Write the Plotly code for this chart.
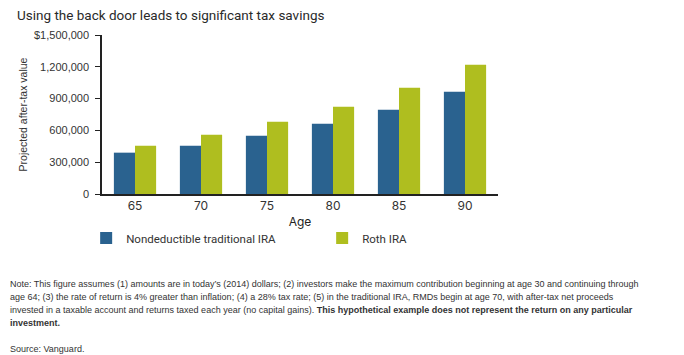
import plotly.graph_objects as go

ages = ["65", "70", "75", "80", "85", "90"]
traditional = [390000, 456000, 550000, 663000, 795000, 965000]
roth = [456000, 559000, 682000, 824000, 1003000, 1220000]
y_ticks = [0, 300000, 600000, 900000, 1200000, 1500000]
y_tick_labels = ["0", "300,000", "600,000", "900,000", "1,200,000", "$1,500,000"]

note_lines = [
    "Note: This figure assumes (1) amounts are in today\u2019s (2014) dollars; (2) investors make the maximum contribution beginning at age 30 and continuing through",
    "age 64; (3) the rate of return is 4% greater than inflation; (4) a 28% tax rate; (5) in the traditional IRA, RMDs begin at age 70, with after-tax net proceeds",
    "invested in a taxable account and returns taxed each year (no capital gains). <b>This hypothetical example does not represent the return on any particular</b>",
    "<b>investment.</b>",
]
source = "Source: Vanguard."

BLUE = "#2A628F"
GREEN = "#AFBE1F"
TXT = "#333333"

PL, PR, PT, PB = 102, 498, 35, 194
PW, PH = PR - PL, PB - PT

fig = go.Figure()
fig.add_bar(x=ages, y=traditional, name="Nondeductible traditional IRA",
            marker=dict(color=BLUE, line=dict(width=0)))
fig.add_bar(x=ages, y=roth, name="Roth IRA",
            marker=dict(color=GREEN, line=dict(width=0)))

fig.update_layout(
    width=684, height=355,
    margin=dict(l=PL, r=684 - PR, t=PT, b=355 - PB, autoexpand=False),
    paper_bgcolor="white", plot_bgcolor="white",
    barmode="group", bargap=0.36, bargroupgap=0,
    font=dict(family="Liberation Sans, Arial, sans-serif", size=11, color=TXT),
    title=dict(text="Using the back door leads to significant tax savings",
               x=17/684, xanchor="left", y=1-15/355, yanchor="middle",
               font=dict(family="Roboto, Inter, sans-serif", size=13.5, color="#2a2a2a")),
    xaxis=dict(showline=True, linecolor="#222222", linewidth=1.5, ticks="",
               automargin=False,
               tickfont=dict(family="Inter, Roboto, sans-serif", size=12, color=TXT),
               title=dict(text="Age", standoff=5,
                          font=dict(family="Inter, Roboto, sans-serif", size=12, color="#222222")),
               range=[-0.5, 5.5], fixedrange=True),
    yaxis=dict(range=[0, 1500000], tickvals=y_ticks, ticktext=y_tick_labels,
               automargin=False,
               showgrid=False, zeroline=False, showline=True, linecolor="#222222",
               linewidth=1.5, ticks="outside", ticklen=5, tickcolor="#222222",
               ticklabelstandoff=4,
               tickfont=dict(family="Liberation Sans, Arial, sans-serif", size=11, color=TXT),
               title=dict(text="Projected after-tax value", standoff=4,
                          font=dict(family="Liberation Sans, Arial, sans-serif", size=10.5, color=TXT))),
    legend=dict(orientation="h", x=-0.04, xanchor="left", y=1-(238-PT)/PH, yanchor="middle",
                entrywidth=191, entrywidthmode="pixels", traceorder="normal",
                font=dict(family="Roboto, Inter, sans-serif", size=11.5, color=TXT)),
    showlegend=True,
)

note_y = [284, 297, 310, 323]
for line, yy in zip(note_lines, note_y):
    fig.add_annotation(text=line, xref="paper", yref="paper", x=(8-PL)/PW, y=-(yy-PB)/PH,
                       xanchor="left", yanchor="middle", align="left", showarrow=False,
                       font=dict(family="Liberation Sans, Arial, sans-serif", size=9, color=TXT))
fig.add_annotation(text=source, xref="paper", yref="paper", x=(8-PL)/PW, y=-(349-PB)/PH,
                   xanchor="left", yanchor="middle", align="left", showarrow=False,
                   font=dict(family="Liberation Sans, Arial, sans-serif", size=9, color=TXT))

fig.write_html("out.html", config={"displayModeBar": False},
               post_script="document.body.style.margin='0';document.body.style.padding='0';document.body.style.overflow='hidden';")
